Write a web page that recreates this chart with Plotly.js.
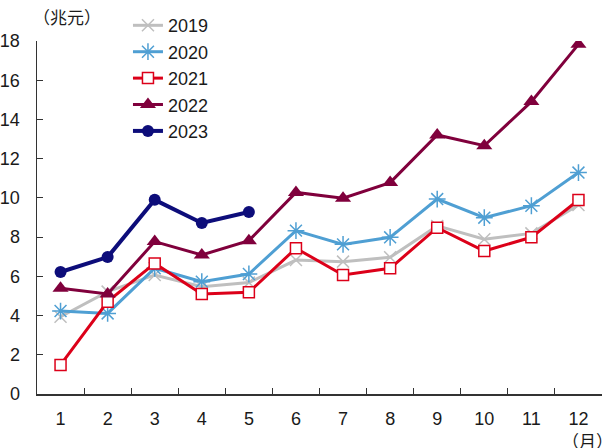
<!DOCTYPE html>
<html><head><meta charset="utf-8">
<script src="https://cdn.plot.ly/plotly-3.0.1.min.js"></script>
<style>body{margin:0;background:#fff}#chart{width:615px;height:448px}</style>
</head><body><div id="chart"></div>
<script>
const months = ['1','2','3','4','5','6','7','8','9','10','11','12'];
const v2019 = [3.94,5.22,6.07,5.47,5.68,6.83,6.75,6.97,8.57,7.89,8.19,9.64];
const v2020 = [4.23,4.11,6.41,5.73,6.12,8.33,7.63,7.99,9.94,8.99,9.60,11.29];
const v2021 = [1.48,4.71,6.66,5.10,5.19,7.43,6.07,6.41,8.48,7.29,7.99,9.89];
const v2022 = [5.39,5.10,7.77,7.09,7.82,10.28,9.98,10.78,13.21,12.66,14.91,17.83];
const v2023 = [6.22,6.98,9.90,8.72,9.28];
const names = ['2019','2020','2021','2022','2023'];
const yTicks = [0,2,4,6,8,10,12,14,16,18];

const traces = [
  {x:months,y:v2019,name:names[0],mode:'lines+markers',line:{color:'#bfbfbf',width:3},
   marker:{symbol:'x-thin-open',size:12,line:{color:'#bfbfbf',width:1.5},color:'#bfbfbf'}},
  {x:months,y:v2020,name:names[1],mode:'lines+markers',line:{color:'#4f9fd3',width:3},
   marker:{symbol:'asterisk-open',size:14,line:{color:'#4f9fd3',width:1.5},color:'#4f9fd3'}},
  {x:months,y:v2021,name:names[2],mode:'lines+markers',line:{color:'#dc0019',width:3},
   marker:{symbol:'square',size:11,color:'#ffffff',line:{color:'#dc0019',width:1.5}}},
  {x:months,y:v2022,name:names[3],mode:'lines+markers',line:{color:'#80003c',width:3},
   marker:{symbol:'triangle-up',size:14,color:'#80003c'}},
  {x:months.slice(0,v2023.length),y:v2023,name:names[4],mode:'lines+markers',line:{color:'#0d0d7a',width:4},
   marker:{symbol:'circle',size:12,color:'#0d0d7a'}}
];

const layout = {
  width:615,height:448,
  margin:{l:37,r:13,t:41,b:54,autoexpand:false},
  paper_bgcolor:'#fff',plot_bgcolor:'#fff',
  font:{family:'Liberation Sans, Arial, sans-serif',size:18,color:'#1a1a1a'},
  showlegend:true,
  legend:{x:0.161,y:1.096,xanchor:'left',yanchor:'top',bgcolor:'rgba(0,0,0,0)',
    font:{size:18,color:'#1a1a1a'},tracegroupgap:0,itemwidth:30},
  xaxis:{type:'category',range:[-0.5,11.5],tickson:'boundaries',ticks:'inside',ticklen:6,
    tickcolor:'#333',showline:true,linecolor:'#333',linewidth:1.5,showgrid:false,zeroline:false,
    tickfont:{size:18},ticklabelstandoff:8,fixedrange:true},
  yaxis:{range:[0,18],tickvals:yTicks,ticktext:yTicks.map(String),ticks:'inside',ticklen:6,
    tickcolor:'#333',showline:true,linecolor:'#333',linewidth:1.5,showgrid:false,zeroline:false,
    tickfont:{size:18},ticklabelstandoff:12,fixedrange:true},
  annotations:[
    {text:'（兆元）',xref:'paper',yref:'paper',x:-0.01,y:1.0,yshift:10,xanchor:'left',yanchor:'bottom',
     showarrow:false,font:{family:'Noto Sans CJK JP',size:17,color:'#1a1a1a'}},
    {text:'（月）',xref:'paper',yref:'paper',x:1.023,y:0,yshift:-32,xanchor:'right',yanchor:'top',
     showarrow:false,font:{family:'Noto Sans CJK JP',size:17,color:'#1a1a1a'}}
  ]
};
Plotly.newPlot('chart',traces,layout,{staticPlot:true,displayModeBar:false});
</script></body></html>
